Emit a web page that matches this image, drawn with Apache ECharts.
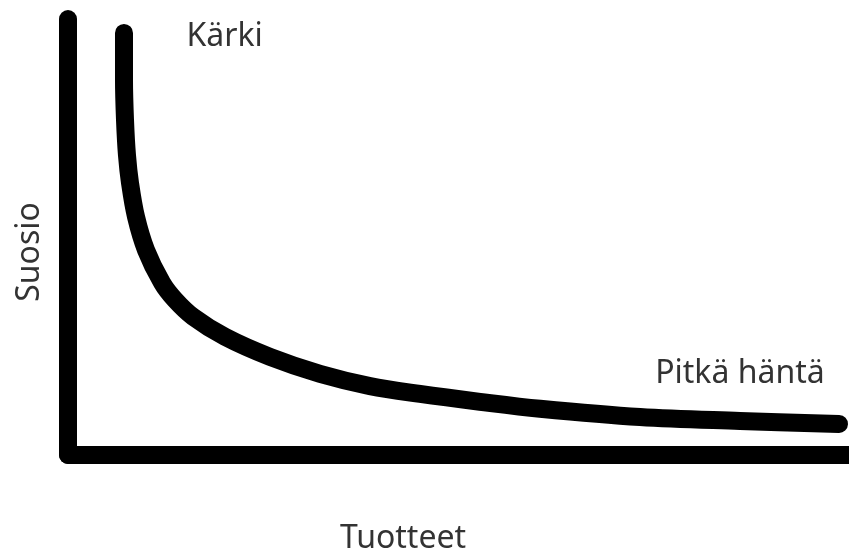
<!DOCTYPE html>
<html>
<head>
<meta charset="utf-8">
<title>Pitkä häntä</title>
<script src="https://cdn.jsdelivr.net/npm/echarts@6/dist/echarts.min.js"></script>
<style>
  html, body { margin: 0; padding: 0; background: #fff; }
  #chart { width: 849px; height: 552px; }
</style>
</head>
<body>
<div id="chart"></div>
<script>
// tuotteet (x) ja suosio (y), luettu kuvasta 0..100 asteikolla
const tuotteet = [7.17, 7.17, 7.30, 7.55, 7.94, 8.71, 9.99, 12.04, 13.70, 16.01, 20.10, 25.86, 32.27, 38.67, 45.07, 52.75, 60.44, 73.24, 86.04, 98.72]
const suosio = [96.8, 86.0, 76.8, 68.8, 62.4, 54.6, 47.0, 39.5, 35.6, 31.7, 27.1, 22.5, 18.6, 15.8, 14.0, 12.2, 10.6, 8.7, 7.8, 7.1]
const karki = 'Kärki'
const hanta = 'Pitkä häntä'

const font = 'Noto Sans'
const textColor = '#333'

const points = tuotteet.map((x, i) => {
  const item = { value: [x, suosio[i]] }
  if (i === 0) {
    item.label = { show: true, formatter: karki, position: 'right', distance: 62, offset: [0, 4] }
  }
  if (i === 18) {
    item.label = { show: true, formatter: hanta, position: 'top', distance: 31 }
  }
  return item
})

const chart = echarts.init(document.getElementById('chart'))
chart.setOption({
  animation: false,
  grid: { left: 68, right: 0, top: 19, bottom: 97, outerBoundsMode: 'none', containLabel: false },
  xAxis: {
    type: 'value',
    min: 0,
    max: 100,
    name: 'Tuotteet',
    nameLocation: 'middle',
    nameGap: 68,
    nameTextStyle: { fontSize: 32, color: textColor, fontFamily: font, padding: [0, 111, 0, 0] },
    axisLine: { show: true, lineStyle: { color: '#000', width: 18, cap: 'round' } },
    axisTick: { show: false },
    axisLabel: { show: false },
    splitLine: { show: false }
  },
  yAxis: {
    type: 'value',
    min: 0,
    max: 100,
    name: 'Suosio',
    nameLocation: 'middle',
    nameGap: 22,
    nameTextStyle: { fontSize: 32, color: textColor, fontFamily: font, padding: [0, 30, 0, 0] },
    axisLine: { show: true, lineStyle: { color: '#000', width: 18, cap: 'round' } },
    axisTick: { show: false },
    axisLabel: { show: false },
    splitLine: { show: false }
  },
  series: [
    {
      type: 'line',
      data: points,
      smooth: 0.35,
      symbol: 'circle',
      symbolSize: 1,
      showSymbol: true,
      itemStyle: { color: '#000' },
      lineStyle: { color: '#000', width: 18, cap: 'round', join: 'round' },
      label: { fontSize: 32, color: textColor, fontFamily: font }
    }
  ]
})
</script>
</body>
</html>
